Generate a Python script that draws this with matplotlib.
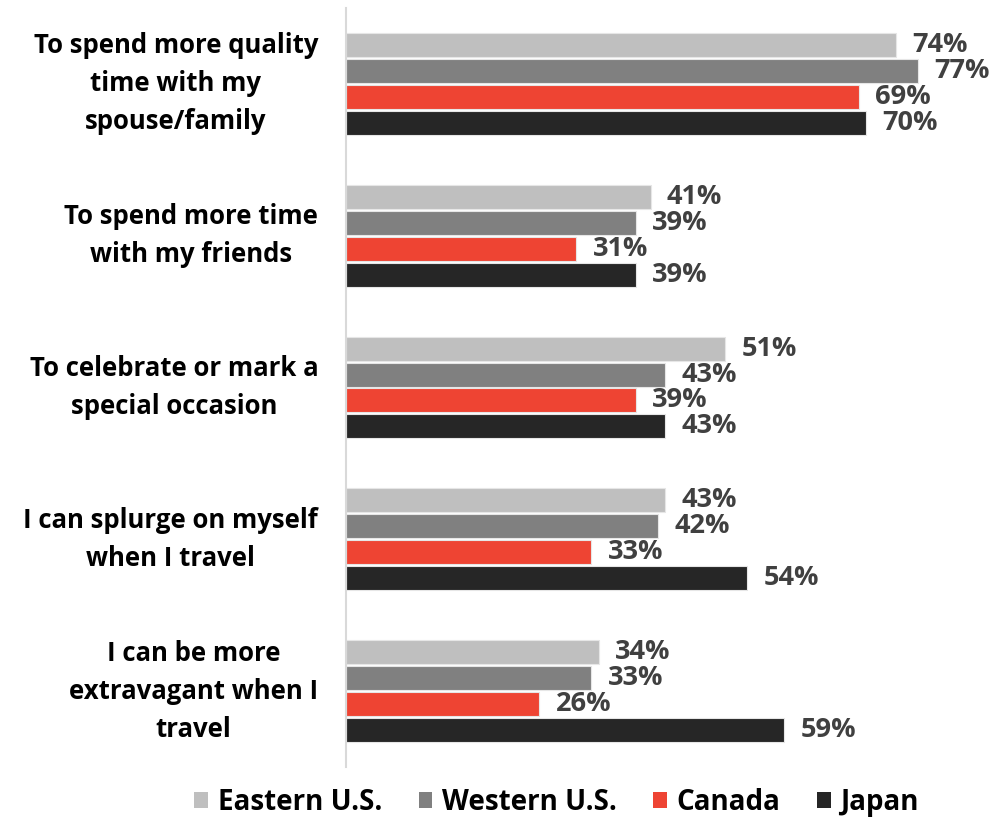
import matplotlib
matplotlib.use("Agg")
import matplotlib.pyplot as plt
import numpy as np
from matplotlib.patches import Patch

# survey reasons (top to bottom) and share per region, in %
reasons = ["To spend more quality\ntime with my\nspouse/family",
           "To spend more time\nwith my friends",
           "To celebrate or mark a\nspecial occasion",
           "I can splurge on myself\nwhen I travel",
           "I can be more\nextravagant when I\ntravel"]
regions = ["Eastern U.S.", "Western U.S.", "Canada", "Japan"]
eastern = [74, 41, 51, 43, 34]
western = [77, 39, 43, 42, 33]
canada = [69, 31, 39, 33, 26]
japan = [70, 39, 43, 54, 59]

COLORS = ["#BFBFBF", "#808080", "#EE4433", "#262626"]
LABEL_C = "#404040"
FONT = ["Open Sans", "DejaVu Sans"]

plt.rcParams["font.family"] = FONT
fig = plt.figure(figsize=(9.94, 8.19), dpi=100)
ax = fig.add_axes([346 / 994, 52 / 819, 648 / 994, 759 / 819])

series = [eastern, western, canada, japan]
y = np.arange(len(reasons))
slot = 26 / 152
for i, (vals, col) in enumerate(zip(series, COLORS)):
    yy = y - 1.5 * slot + i * slot
    ax.barh(yy, vals, height=24 / 152, color=col, edgecolor="#E6E6E6", lw=0.8)
    for yi, v in zip(yy, vals):
        ax.text(v + 2.2, yi, f"{v}%", va="center", ha="left",
                fontsize=19.5, fontweight="bold", color=LABEL_C)

ax.set_xlim(0, 648 / 7.43)
ax.set_ylim(len(reasons) - 0.5, -0.5)
ax.set_xticks([])
ax.set_yticks(y)
ax.set_yticklabels(reasons, fontsize=18.5, fontweight="bold", color="black",
                   multialignment="center", linespacing=1.52)
for lab in ax.get_yticklabels():
    lab.set_verticalalignment("center")
ax.tick_params(axis="y", length=0, pad=20)
for s in ("top", "right", "bottom"):
    ax.spines[s].set_visible(False)
ax.spines["left"].set_color("#D9D9D9")
ax.spines["left"].set_linewidth(1.5)

handles = [Patch(facecolor=c, edgecolor="none") for c in COLORS]
fig.legend(handles, regions, loc="center", bbox_to_anchor=(0.56, 0.02),
           ncol=4, frameon=False, handlelength=0.5, handleheight=0.5,
           handletextpad=0.35, columnspacing=1.3,
           prop={"family": FONT, "weight": "bold", "size": 20})

fig.savefig("out.png", dpi=100)
